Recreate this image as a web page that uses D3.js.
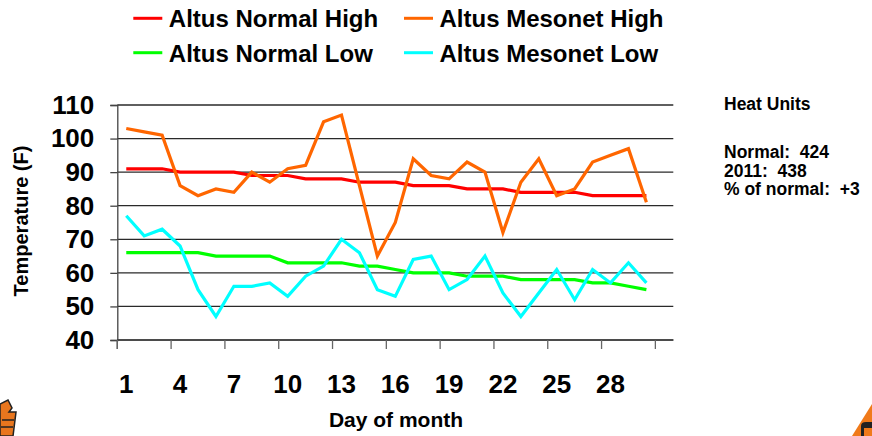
<!DOCTYPE html>
<html><head><meta charset="utf-8">
<script src="https://cdn.jsdelivr.net/npm/d3@7"></script>
<style>
html,body{margin:0;padding:0;background:#fff;}
svg{display:block;}
text{font-family:Arial,"Liberation Sans",sans-serif;font-weight:bold;fill:#000;}
</style></head>
<body>
<script>
const days = d3.range(1, 31);
const categories = d3.range(1, 32);
const normalHigh = [91,91,91,90,90,90,90,89,89,89,88,88,88,87,87,87,86,86,86,85,85,85,84,84,84,84,83,83,83,83];
const mesonetHigh = [103,102,101,86,83,85,84,90,87,91,92,105,107,86,65,75,94,89,88,93,90,72,87,94,83,85,93,95,97,81];
const normalLow = [66,66,66,66,66,65,65,65,65,63,63,63,63,62,62,61,60,60,60,59,59,59,58,58,58,58,57,57,56,55];
const mesonetLow = [77,71,73,68,55,47,56,56,57,53,59,62,70,66,55,53,64,65,55,58,65,54,47,54,61,52,61,57,63,57];
const xTickLabels = [1,4,7,10,13,16,19,22,25,28];
const yTicks = [40,50,60,70,80,90,100,110];
const seriesNames = ["Altus Normal High","Altus Mesonet High","Altus Normal Low","Altus Mesonet Low"];
const seriesColors = ["#ff0000","#ff6600","#00ff00","#00ffff"];
const heatLines = ["Normal:  424","2011:  438","% of normal:  +3"];

const W = 872, H = 436;
const svg = d3.select("body").append("svg").attr("width", W).attr("height", H);

const x = d3.scaleBand().domain(categories).range([117.3, 673.3]).padding(0);
const y = d3.scaleLinear().domain([40, 110]).range([340, 105]);
const cx = d => x(d) + x.bandwidth() / 2;

// gridlines
svg.append("g").selectAll("line").data(yTicks).join("line")
  .attr("x1", 117.3).attr("x2", 673.3)
  .attr("y1", d => y(d)).attr("y2", d => y(d))
  .attr("stroke", "#2a2a2a").attr("stroke-width", 1.3);

// y axis
const yAxis = svg.append("g").attr("transform", "translate(117.3,0)")
  .call(d3.axisLeft(y).tickValues(yTicks).tickSize(7).tickPadding(16));
yAxis.select(".domain").attr("stroke", "#444").attr("stroke-width", 1.3);
yAxis.selectAll(".tick line").attr("stroke", "#444").attr("stroke-width", 1.3);
yAxis.selectAll(".tick text").attr("font-size", 26).attr("font-family", "Arial, 'Liberation Sans', sans-serif").attr("font-weight", "bold").attr("fill", "#000");

// x axis
const tickBounds = d3.range(0, 31, 3).map(i => 117.3 + i * x.bandwidth());
svg.append("line").attr("x1", 117.3).attr("x2", 673.3).attr("y1", 340).attr("y2", 340)
  .attr("stroke", "#444").attr("stroke-width", 1.3);
svg.append("line").attr("x1", 117.3).attr("x2", 117.3).attr("y1", 340).attr("y2", 349)
  .attr("stroke", "#444").attr("stroke-width", 1.3);
svg.append("g").selectAll("line").data(tickBounds).join("line")
  .attr("x1", d => d).attr("x2", d => d).attr("y1", 340).attr("y2", 349)
  .attr("stroke", "#666").attr("stroke-width", 1.3);
svg.append("g").selectAll("text").data(xTickLabels).join("text")
  .attr("x", d => cx(d)).attr("y", 393).attr("text-anchor", "middle")
  .attr("font-size", 26).text(d => d);

// series lines
const allSeries = [normalHigh, mesonetHigh, normalLow, mesonetLow];
const line = d3.line().x((d, i) => cx(days[i])).y(d => y(d));
const drawOrder = [0, 2, 1, 3];
drawOrder.forEach(k => {
  svg.append("path").datum(allSeries[k]).attr("d", line)
    .attr("fill", "none").attr("stroke", seriesColors[k]).attr("stroke-width", 3.2)
    .attr("stroke-linejoin", "miter");
});

// legend
const legPos = [[133.3, 18.3], [404, 18.3], [133.3, 52.7], [404, 52.7]];
seriesNames.forEach((n, k) => {
  const [lx, ly] = legPos[k];
  svg.append("line").attr("x1", lx).attr("x2", lx + 29).attr("y1", ly).attr("y2", ly)
    .attr("stroke", seriesColors[k]).attr("stroke-width", 3);
  svg.append("text").attr("x", lx + 35.5).attr("y", ly + 9).attr("font-size", 24).text(n);
});

// axis titles
svg.append("text").attr("transform", "translate(27.5,221) rotate(-90)")
  .attr("text-anchor", "middle").attr("font-size", 20).text("Temperature (F)");
svg.append("text").attr("x", 396).attr("y", 427).attr("text-anchor", "middle")
  .attr("font-family", "Lato, 'Open Sans', sans-serif").attr("font-size", 21).text("Day of month");

// heat units
svg.append("text").attr("x", 724).attr("y", 110).attr("font-size", 17.5).text("Heat Units");
heatLines.forEach((t, i) => {
  svg.append("text").attr("x", 724).attr("y", 158 + i * 18.5).attr("font-size", 17.5)
    .attr("xml:space", "preserve").style("white-space", "pre").text(t);
});

// corner logos (partial)
const lg = svg.append("g");
lg.append("path").attr("d", "M0,404 L8,400 L12,408 L9,412 L16,412 L13,436 L0,436 Z")
  .attr("fill", "#e8761e").attr("stroke", "#222").attr("stroke-width", 1.5);
lg.append("path").attr("d", "M2,420 L14,420 M1,427 L13,427").attr("stroke", "#222").attr("stroke-width", 1.5);
const rg = svg.append("g");
rg.append("path").attr("d", "M872,404 L872,436 L852,436 Z").attr("fill", "#f07a1a");
rg.append("path").attr("d", "M861,436 L861,426 Q861,422 866,422 L872,422 L872,436 Z").attr("fill", "#222");
rg.append("path").attr("d", "M864,436 L864,428 L872,428 L872,436 Z").attr("fill", "#f07a1a");
</script>
</body></html>
